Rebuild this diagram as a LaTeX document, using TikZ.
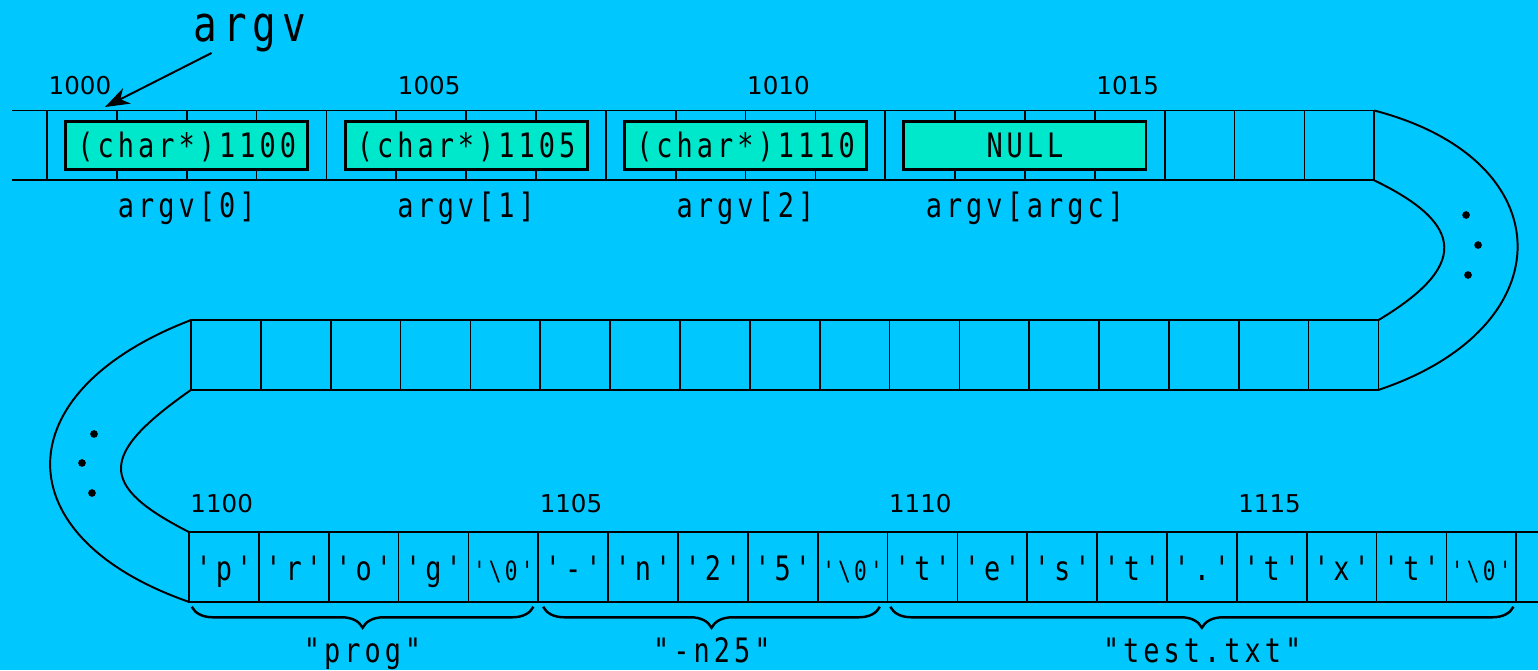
\documentclass[tikz,border=0pt]{standalone}
\usepackage{fontspec}
\usepackage{xcolor}
\usepackage{tikz}
\usetikzlibrary{arrows.meta,positioning,decorations.pathreplacing}

\newfontfamily\codefont[FakeStretch=0.8,LetterSpace=12]{DejaVu Sans Mono}
\newfontfamily\addrfont{DejaVu Sans}
\definecolor{memblue}{RGB}{0,200,255}
\definecolor{ptrgreen}{RGB}{0,232,204}

\tikzset{
  cell/.style={draw, line width=0.7pt, minimum width=1cm, minimum height=1cm,
    inner sep=0pt, outer sep=0pt, font=\codefont\fontsize{13.7}{16}\selectfont,
    text height=13pt, text depth=1.6pt},
  nul/.style={font=\codefont\fontsize{10.8}{13}\selectfont},
  ptr/.style={draw, line width=1.2pt, fill=ptrgreen, minimum width=3.465cm,
    minimum height=0.687cm, inner sep=0pt,
    font=\codefont\fontsize{13.7}{16}\selectfont, text height=12pt, text depth=2.2pt},
  lbl/.style={anchor=base, inner sep=0pt, font=\codefont\fontsize{13.7}{16}\selectfont},
  addr/.style={anchor=base west, inner sep=0pt, font=\addrfont\fontsize{10}{12}\selectfont},
  strbrace/.style={decorate, decoration={brace, mirror, amplitude=0.3cm}, line width=1pt},
  bendline/.style={line width=0.8pt}
}

\begin{document}
\begin{tikzpicture}
\useasboundingbox (0,0) rectangle (22.018,9.592);
\fill[memblue] (0,0) rectangle (22.018,9.592);

% argv array
\foreach \i in {0,...,18}
  \node[cell] (t\i) at (1.173+\i,7.51) {};
\draw[line width=0.7pt] (t0.north west) -- ++(-0.501,0)
  (t0.south west) -- ++(-0.501,0);

\node[ptr] (p0) at (t1.east)  {(char*)1100};
\node[ptr] (p1) at (t5.east)  {(char*)1105};
\node[ptr] (p2) at (t9.east)  {(char*)1110};
\node[ptr] (p3) at (t13.east) {NULL};

\node[lbl] (l0) at (2.673,6.485)  {argv[0]};
\node[lbl] (l1) at (6.673,6.485)  {argv[1]};
\node[lbl] (l2) at (10.673,6.485) {argv[2]};
\node[lbl] (l3) at (14.673,6.485) {argv[argc]};

\node[addr] (a0) at (0.69,8.242)  {1000};
\node[addr] (a1) at (5.69,8.242)  {1005};
\node[addr] (a2) at (10.69,8.242) {1010};
\node[addr] (a3) at (15.69,8.242) {1015};

\node[lbl, font=\codefont\fontsize{20}{24}\selectfont] (argvname) at (3.579,8.991) {argv};
\coordinate (argvtip) at (1.503,8.06);
\draw[line width=0.8pt, -{Stealth[length=10pt,width=7pt,inset=3pt]}] (argvname) -- (argvtip);

% middle row
\foreach \i in {0,...,16}
  \node[cell] (m\i) at (3.234+\i,4.51) {};

% strings
\node[cell] (c0) at (3.206,1.475) {'p'};
\node[cell, right=0pt of c0] (c1) {'r'};
\node[cell, right=0pt of c1] (c2) {'o'};
\node[cell, right=0pt of c2] (c3) {'g'};
\node[cell, nul, right=0pt of c3] (c4) {'\textbackslash 0'};
\node[cell, right=0pt of c4] (c5) {'-'};
\node[cell, right=0pt of c5] (c6) {'n'};
\node[cell, right=0pt of c6] (c7) {'2'};
\node[cell, right=0pt of c7] (c8) {'5'};
\node[cell, nul, right=0pt of c8] (c9) {'\textbackslash 0'};
\node[cell, right=0pt of c9] (c10) {'t'};
\node[cell, right=0pt of c10] (c11) {'e'};
\node[cell, right=0pt of c11] (c12) {'s'};
\node[cell, right=0pt of c12] (c13) {'t'};
\node[cell, right=0pt of c13] (c14) {'.'};
\node[cell, right=0pt of c14] (c15) {'t'};
\node[cell, right=0pt of c15] (c16) {'x'};
\node[cell, right=0pt of c16] (c17) {'t'};
\node[cell, nul, right=0pt of c17] (c18) {'\textbackslash 0'};
\draw[line width=0.7pt] (c18.north east) -- ++(0.4,0)
  (c18.south east) -- ++(0.4,0);

\node[addr] (b0) at (2.72,2.262)  {1100};
\node[addr] (b1) at (7.72,2.262)  {1105};
\node[addr] (b2) at (12.72,2.262) {1110};
\node[addr] (b3) at (17.72,2.262) {1115};

\draw[strbrace] ([shift={(0.04,-0.07)}]c0.south west) -- ([shift={(-0.07,-0.07)}]c4.south east);
\draw[strbrace] ([shift={(0.07,-0.07)}]c5.south west) -- ([shift={(-0.11,-0.07)}]c9.south east);
\draw[strbrace] ([shift={(0.04,-0.07)}]c10.south west) -- ([shift={(-0.04,-0.07)}]c18.south east);

\node[lbl] (s0) at (5.19,0.114)  {"prog"};
\node[lbl] (s1) at (10.19,0.114) {"-n25"};
\node[lbl] (s2) at (17.21,0.114) {"test.txt"};

% bends
\draw[bendline] (t18.north east) .. controls (22.4,7.3) and (22.4,4.9) .. (m16.south east);
\draw[bendline] (t18.south east) .. controls (21.0,6.37) and (21.0,5.77) .. (m16.north east);
\draw[bendline] (m0.north west) .. controls (0.05,3.98) and (0.05,1.9) .. (c0.south west);
\draw[bendline] (m0.south west) .. controls (1.403,3.077) and (1.403,2.64) .. (c0.north west);

\fill (20.988,6.514) circle (0.055) (21.16,6.084) circle (0.055) (21.016,5.655) circle (0.055);
\fill (1.346,3.379) circle (0.055) (1.174,2.964) circle (0.055) (1.317,2.534) circle (0.055);
\end{tikzpicture}
\end{document}
